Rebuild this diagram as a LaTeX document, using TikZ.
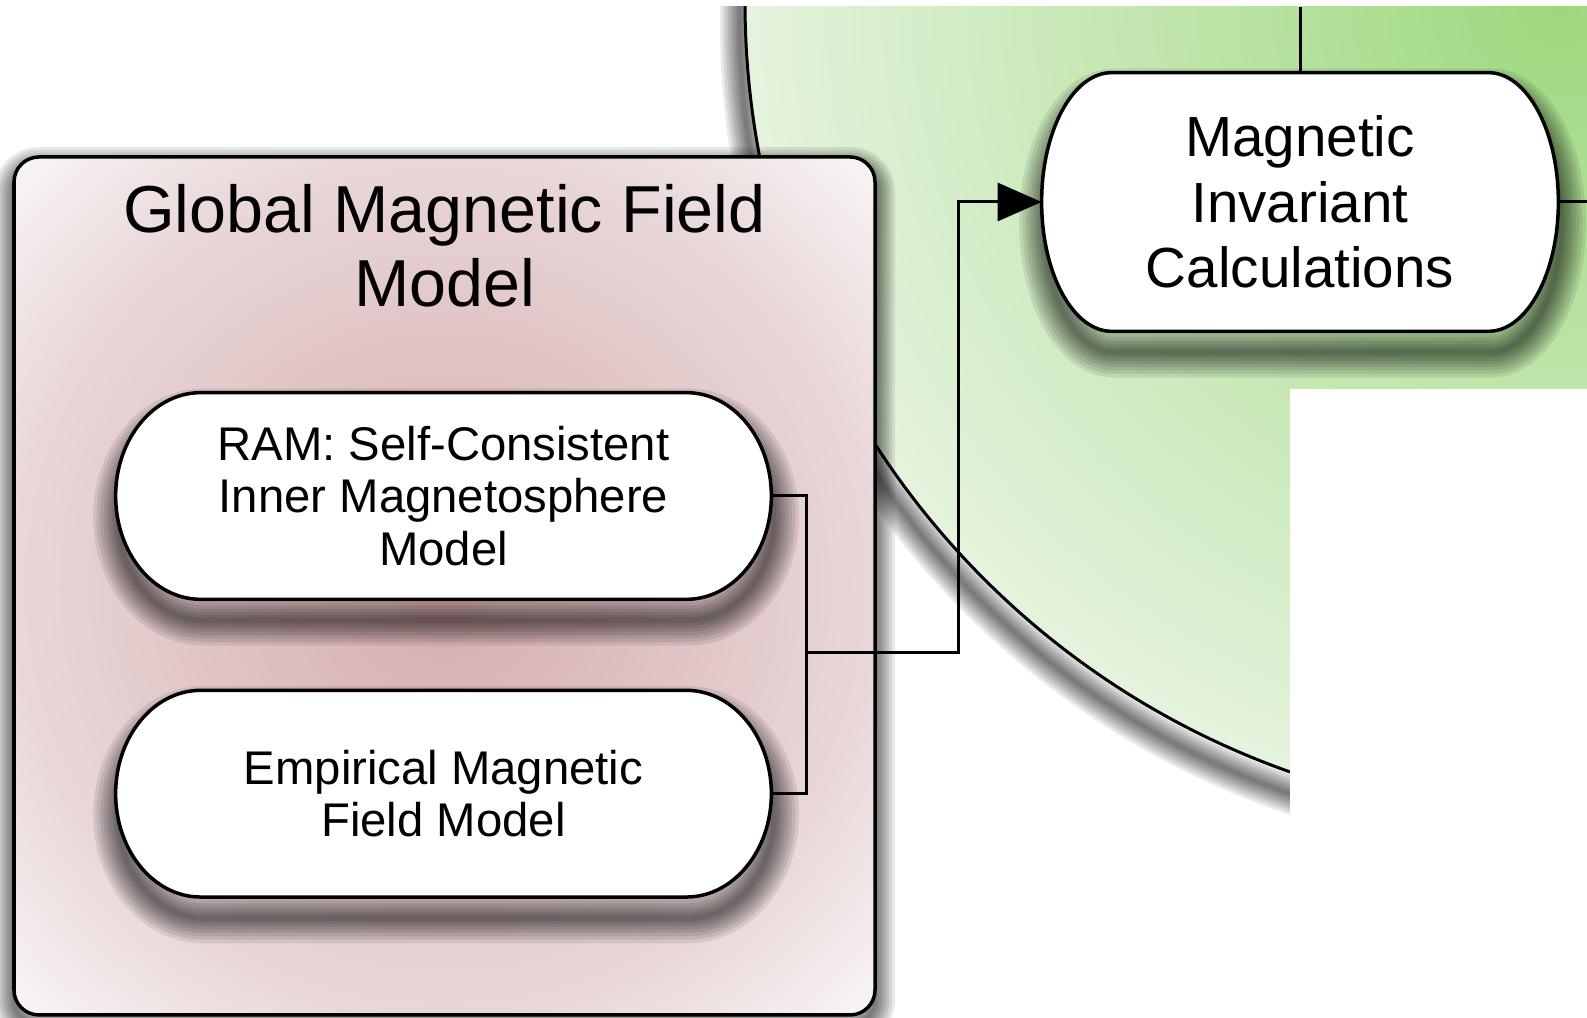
\documentclass[tikz,border=0pt]{standalone}
\usepackage{fontspec}
\setmainfont{Liberation Sans}
\usetikzlibrary{positioning,calc,arrows.meta}

\definecolor{fieldrose}{HTML}{D5ACAD}
\definecolor{fieldmid}{HTML}{E9D7D8}
\definecolor{fieldpale}{HTML}{F9F5F5}
\definecolor{orbitdeep}{HTML}{9DD87D}
\definecolor{orbitpale}{HTML}{E5F3DE}

\pgfdeclareradialshading{fieldglow}{\pgfpoint{0bp}{0bp}}{color(0bp)=(fieldrose); color(25bp)=(fieldmid); color(35bp)=(fieldpale); color(50bp)=(fieldpale)}

\pgfdeclarelayer{back}
\pgfdeclarelayer{cards}
\pgfsetlayers{back,cards,main}

\tikzset{
  shadowring/.style n args={3}{preaction={draw=black, opacity=0.085, line width=#3, transform canvas={shift={(#1,#2)}}}},
  softshadow/.style n args={3}{
    shadowring={#1}{#2}{#3}, shadowring={#1}{#2}{0.86*#3},
    shadowring={#1}{#2}{0.72*#3}, shadowring={#1}{#2}{0.59*#3},
    shadowring={#1}{#2}{0.46*#3}, shadowring={#1}{#2}{0.34*#3},
    shadowring={#1}{#2}{0.22*#3}, shadowring={#1}{#2}{0.11*#3}},
  orbit/.style={line width=0.06cm, inner color=orbitdeep, outer color=orbitpale,
    softshadow={-0.1cm}{-0.4cm}{0.8cm}},
  panel/.style={rectangle, rounded corners=0.5cm, draw, line width=0.07cm,
    shading=fieldglow, softshadow={0cm}{-0.2cm}{0.8cm}},
  title/.style={align=center, inner sep=0pt, font=\fontsize{37.8}{42}\selectfont},
  pill/.style={rectangle, align=center, inner sep=0pt, font=\fontsize{26.9}{29.9}\selectfont},
  pillline/.style={line width=0.07cm, fill=white, softshadow={0.05cm}{-0.42cm}{1.0cm}},
  wire/.style={line width=0.06cm}
}

\begin{document}
\begin{tikzpicture}

      \useasboundingbox (0,0) rectangle (31.74,20.36);

      \begin{pgfonlayer}{back}
        \begin{scope}
          \clip (0,0) rectangle (31.74,20.22);
          \draw[orbit] (31.22,20.32) circle[radius=16.32];
        \end{scope}
        \fill[white] (25.8,0) rectangle (31.74,12.58);
        \node[panel, minimum width=17.22cm, minimum height=17.16cm] (gmf) at (8.89,8.64) {};
      \end{pgfonlayer}

      \node[title, below=0.58cm of gmf.north] (gmftitle) {Global Magnetic Field\\Model};

      \node[pill, minimum width=13.1cm, minimum height=4.12cm] (ram) at (8.87,10.44)
        {RAM: Self-Consistent\\Inner Magnetosphere\\Model};
      \node[pill, minimum width=13.1cm, minimum height=4.12cm, below=1.82cm of ram] (emp)
        {Empirical Magnetic\\Field Model};
      \node[pill, minimum width=10.32cm, minimum height=5.16cm,
        font=\fontsize{32.2}{37.4}\selectfont] (inv) at (26,16.32)
        {Magnetic\\Invariant\\Calculations};

      \begin{pgfonlayer}{cards}
        \foreach \nm/\rx in {ram/1.7cm, emp/1.7cm, inv/1.4cm} {
          \draw[pillline] let \p1=(\nm.north west), \p2=(\nm.south east), \n1={(\y1-\y2)/2} in
            ({\x1+\rx},\y1) -- ({\x2-\rx},\y1)
            arc[start angle=90, end angle=-90, x radius=\rx, y radius=\n1]
            -- ({\x1+\rx},\y2)
            arc[start angle=270, end angle=90, x radius=\rx, y radius=\n1] -- cycle;
        }
      \end{pgfonlayer}

      \coordinate (join) at (16.12,7.3);
      \coordinate (outtop) at (26,20.22);
      \coordinate (outright) at (31.74,16.32);

      \draw[wire] (ram.east) -| (join) |- (emp.east);
      \draw[wire, -{Triangle[length=0.88cm, width=0.76cm]}] (join) -- ++(3.04,0) |- (inv.west);
      \draw[wire] (inv.north) -- (outtop);
      \draw[wire] (inv.east) -- (outright);

\end{tikzpicture}
\end{document}
